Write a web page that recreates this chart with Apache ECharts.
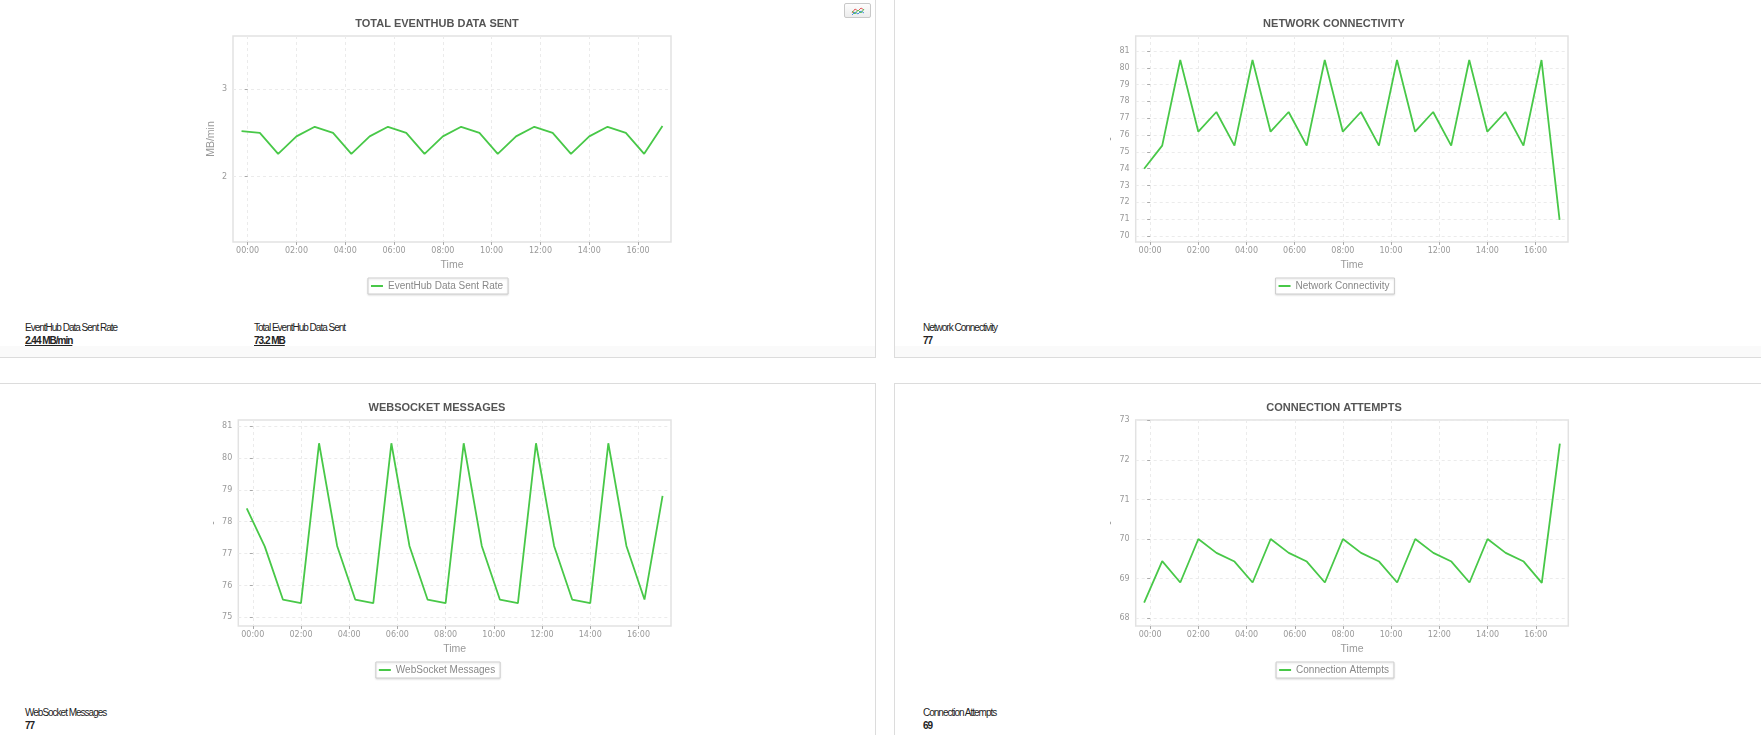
<!DOCTYPE html>
<html lang="en">
<head>
<meta charset="UTF-8" />
<title>Device Telemetry</title>
<script src="https://cdn.jsdelivr.net/npm/echarts@6.0.0/dist/echarts.min.js"></script>
<style>
	html, body { margin: 0; padding: 0; background: #fff; }
	body { position: relative; width: 1761px; height: 735px; overflow: hidden; font-family: Arial, "Liberation Sans", sans-serif; }
	.panel { position: absolute; box-sizing: border-box; border: 1px solid #dcdcdc; background: #fff; }
	.panel .foot { position: absolute; left: 0; right: 0; bottom: 0; height: 11px; background: #fafafa; }
	.chart { position: absolute; width: 880px; height: 300px; }
	.stat { position: absolute; font-size: 10px; line-height: 12px; letter-spacing: -1px; color: #222; }
	.stat b { display: block; margin-top: 1px; }
	.btn { position: absolute; left: 844px; top: 3px; width: 25px; height: 13px; border: 1px solid #c8c8c8; border-radius: 2px;
		background: linear-gradient(#fdfdfd, #ececec); }
	.btn svg { position: absolute; left: 6px; top: 2px; }
</style>
</head>
<body>
	<!-- panels -->
	<div class="panel" style="left:-2px; top:-2px; width:878px; height:360px;"><div class="foot"></div></div>
	<div class="panel" style="left:894px; top:-2px; width:880px; height:360px;"><div class="foot"></div></div>
	<div class="panel" style="left:-2px; top:383px; width:878px; height:400px;"></div>
	<div class="panel" style="left:894px; top:383px; width:880px; height:400px;"></div>

	<div class="btn">
		<svg width="14" height="10">
			<polyline points="1,7 4,3 7,5 10,2 13,4" stroke="#e35d5d" stroke-width="1" fill="none" />
			<polyline points="1,9 4,6 7,8 10,5 13,7" stroke="#4a8fe0" stroke-width="1" fill="none" />
			<polyline points="1,5 4,8 7,4 10,7 13,3" stroke="#5cc45c" stroke-width="1" fill="none" />
		</svg>
	</div>

	<!-- chart areas -->
	<div id="main1" class="chart" style="left:-3px; top:0px;"></div>
	<div id="main2" class="chart" style="left:894px; top:0px;"></div>
	<div id="main3" class="chart" style="left:-3px; top:384px;"></div>
	<div id="main4" class="chart" style="left:894px; top:384px;"></div>

	<!-- summary values -->
	<div class="stat" style="left:25px; top:322px;">EventHub Data Sent Rate<b><u>2.44 MB/min</u></b></div>
	<div class="stat" style="left:254px; top:322px;">Total EventHub Data Sent<b><u>73.2 MB</u></b></div>
	<div class="stat" style="left:923px; top:322px;">Network Connectivity<b>77</b></div>
	<div class="stat" style="left:25px; top:707px;">WebSocket Messages<b>77</b></div>
	<div class="stat" style="left:923px; top:707px;">Connection Attempts<b>69</b></div>

<script>
	// sample times, minutes from midnight (first one is 23:45 the day before)
	var times = [-15, 30, 75, 120, 165, 210, 255, 300, 345, 390, 435, 480,
		525, 570, 615, 660, 705, 750, 795, 840, 885, 930, 975, 1020];
	var timeTicks = [0, 120, 240, 360, 480, 600, 720, 840, 960];

	var eventhubRate = [2.52, 2.50, 2.26, 2.46, 2.57, 2.50, 2.26, 2.46, 2.57, 2.50, 2.26, 2.46,
		2.57, 2.50, 2.26, 2.46, 2.57, 2.50, 2.26, 2.46, 2.57, 2.50, 2.26, 2.58];
	var networkConn = [74.0, 75.37, 80.46, 76.2, 77.37, 75.37, 80.46, 76.2, 77.37, 75.37, 80.46, 76.2,
		77.37, 75.37, 80.46, 76.2, 77.37, 75.37, 80.46, 76.2, 77.37, 75.37, 80.46, 70.95];
	var websocketMsgs = [78.42, 77.22, 75.56, 75.45, 80.46, 77.24, 75.56, 75.45, 80.46, 77.24, 75.56, 75.45,
		80.46, 77.24, 75.56, 75.45, 80.46, 77.24, 75.56, 75.45, 80.46, 77.24, 75.56, 78.81];
	var connAttempts = [68.39, 69.44, 68.90, 70.0, 69.65, 69.43, 68.90, 70.0, 69.65, 69.43, 68.90, 70.0,
		69.65, 69.43, 68.90, 70.0, 69.65, 69.43, 68.90, 70.0, 69.65, 69.43, 68.89, 72.41];

	var eventhubTicks = [2, 3];
	var networkTicks = [70, 71, 72, 73, 74, 75, 76, 77, 78, 79, 80, 81];
	var websocketTicks = [75, 76, 77, 78, 79, 80, 81];
	var attemptTicks = [68, 69, 70, 71, 72, 73];

	var GREEN = '#48c848';
	var tickFont = 'DejaVu Sans';

	function hhmm(v) {
		var h = Math.floor(v / 60), m = v % 60;
		return (h < 10 ? '0' : '') + h + ':' + (m < 10 ? '0' : '') + m;
	}

	function buildOption(o) {
		return {
			animation: false,
			title: {
				text: o.title, left: 'center', top: 18, padding: 0,
				textStyle: { fontSize: 11, fontWeight: 'bold', color: '#555', fontFamily: 'Arial' }
			},
			legend: {
				data: [o.name], left: 'center', top: 278,
				icon: 'rect', itemWidth: 12, itemHeight: 2,
				padding: [3, 5, 3, 3],
				borderColor: '#cfcfcf', borderWidth: 1, backgroundColor: '#fff',
				shadowColor: 'rgba(0,0,0,0.12)', shadowBlur: 2, shadowOffsetY: 1,
				textStyle: { fontSize: 10, color: '#888', fontFamily: 'Arial' }
			},
			grid: {
				left: o.left, top: 36, width: o.width, height: 206,
				show: true, borderColor: '#e2e2e2', borderWidth: 1.5,
				containLabel: false, outerBoundsMode: 'none'
			},
			xAxis: {
				type: 'value', min: -36, max: 1041,
				name: 'Time', nameLocation: 'middle', nameGap: 18,
				nameTextStyle: { fontSize: 10.5, color: '#999', fontFamily: 'Arial' },
				axisLine: { show: false },
				axisTick: { show: true, customValues: timeTicks, length: 3, lineStyle: { color: '#aaa' } },
				axisLabel: { customValues: timeTicks, formatter: hhmm, margin: 5,
					fontSize: 8, color: '#999', fontFamily: tickFont },
				splitLine: { show: true, lineStyle: { color: '#ebebeb', type: [3, 3] } }
			},
			yAxis: {
				type: 'value', min: o.min, max: o.max,
				name: o.unit, nameLocation: 'middle', nameGap: o.nameGap, nameRotate: 90,
				nameTextStyle: { fontSize: 10.5, color: '#999', fontFamily: 'Arial' },
				axisLine: { show: false },
				axisTick: { show: true, customValues: o.ticks, length: 3, lineStyle: { color: '#aaa' } },
				axisLabel: { customValues: o.ticks, margin: 6,
					fontSize: 8, color: '#999', fontFamily: tickFont },
				splitLine: { show: true, lineStyle: { color: '#ebebeb', type: [3, 3] } }
			},
			series: [{
				name: o.name, type: 'line', symbol: 'none',
				data: times.map(function (t, i) { return [t, o.values[i]]; }),
				lineStyle: { color: GREEN, width: 1.8 },
				itemStyle: { color: GREEN }
			}]
		};
	}

	var myChart1 = echarts.init(document.getElementById('main1'));
	var myChart2 = echarts.init(document.getElementById('main2'));
	var myChart3 = echarts.init(document.getElementById('main3'));
	var myChart4 = echarts.init(document.getElementById('main4'));

	myChart1.setOption(buildOption({
		title: 'TOTAL EVENTHUB DATA SENT', name: 'EventHub Data Sent Rate', unit: 'MB/min', nameGap: 16,
		values: eventhubRate, ticks: eventhubTicks, min: 1.25, max: 3.61, left: 236, width: 438
	}));
	myChart2.setOption(buildOption({
		title: 'NETWORK CONNECTIVITY', name: 'Network Connectivity', unit: '-', nameGap: 20,
		values: networkConn, ticks: networkTicks, min: 69.64, max: 81.89, left: 241.7, width: 432.3
	}));
	myChart3.setOption(buildOption({
		title: 'WEBSOCKET MESSAGES', name: 'WebSocket Messages', unit: '-', nameGap: 20,
		values: websocketMsgs, ticks: websocketTicks, min: 74.73, max: 81.19, left: 241.3, width: 432.7
	}));
	myChart4.setOption(buildOption({
		title: 'CONNECTION ATTEMPTS', name: 'Connection Attempts', unit: '-', nameGap: 20,
		values: connAttempts, ticks: attemptTicks, min: 67.8, max: 73.01, left: 241.7, width: 432.6
	}));
</script>
</body>
</html>
